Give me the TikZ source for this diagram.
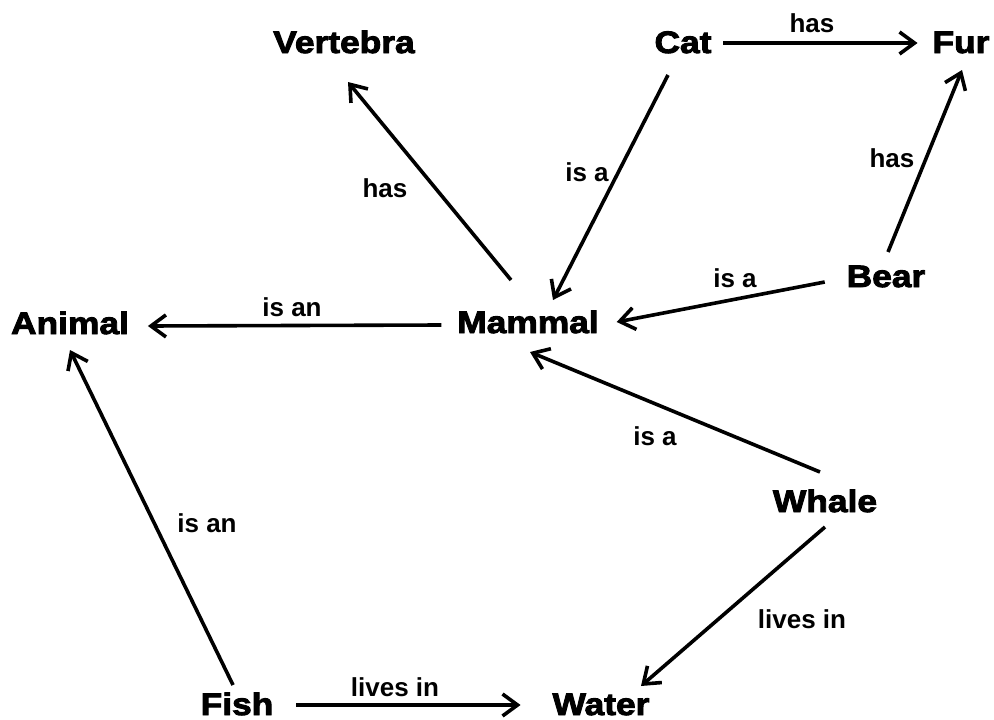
\documentclass[tikz,border=0pt]{standalone}
\usepackage{fontspec}
\setmainfont{Liberation Sans}
\newfontfamily\conceptfont{Liberation Sans}[BoldFeatures={FakeBold=3,FakeStretch=1.14}]
\usetikzlibrary{arrows.meta}

\tikzset{
  concept/.style={inner sep=0pt, outer sep=0pt, anchor=base,
    text height=22pt, text depth=0pt,
    font=\conceptfont\bfseries\fontsize{31}{31}\selectfont},
  relation/.style={inner sep=0pt, anchor=base,
    font=\bfseries\fontsize{26}{26}\selectfont},
  link/.style={line width=3.6pt, -{Straight Barb[length=15pt,width=22pt]}},
}

\begin{document}
\begin{tikzpicture}[x=1pt, y=-1pt]
  \useasboundingbox[fill=white] (0,0) rectangle (994,720);

  % concepts
  \node[concept] (vertebra) at (344,53)  {Vertebra};
  \node[concept] (cat)      at (683,53)  {Cat};
  \node[concept] (fur)      at (961,53)  {Fur};
  \node[concept] (animal)   at (70,334)  {Animal};
  \node[concept] (mammal)   at (528,333) {Mammal};
  \node[concept] (bear)     at (886,287) {Bear};
  \node[concept] (whale)    at (825,512) {Whale};
  \node[concept] (fish)     at (237,715) {Fish};
  \node[concept] (water)    at (601,715) {Water};

  % relations
  \draw[link] ([shift={(12,1)}]cat.east) -- ([shift={(-15,1)}]fur.west);
  \draw[link] ([shift={(-15,22)}]cat.south) -- ([shift={(25,-11)}]mammal.north);
  \draw[link] ([shift={(-17,-31)}]mammal.north) -- ([shift={(4,29)}]vertebra.south);
  \draw[link] ([shift={(2,-13)}]bear.north) -- ([shift={(1,17)}]fur.south);
  \draw[link] ([shift={(-22,6)}]bear.west) -- ([shift={(18,0)}]mammal.east);
  \draw[link] ([shift={(-16,3)}]mammal.west) -- ([shift={(19,3)}]animal.east);
  \draw[link] ([shift={(-5,-18)}]whale.north) -- ([shift={(2,19)}]mammal.south);
  \draw[link] ([shift={(-4,-8)}]fish.north) -- ([shift={(0,16)}]animal.south);
  \draw[link] ([shift={(23,1)}]fish.east) -- ([shift={(-32,1)}]water.west);
  \draw[link] ([shift={(0,15)}]whale.south) -- ([shift={(40,-7)}]water.north);

  % relation labels
  \node[relation] (l-catfur)      at (812,32)  {has};
  \node[relation] (l-catmammal)   at (587,181) {is a};
  \node[relation] (l-mammalvert)  at (385,197) {has};
  \node[relation] (l-bearfur)     at (892,167) {has};
  \node[relation] (l-bearmammal)  at (735,287) {is a};
  \node[relation] (l-mammalanim)  at (292,316) {is an};
  \node[relation] (l-whalemammal) at (655,445) {is a};
  \node[relation] (l-fishanimal)  at (207,532) {is an};
  \node[relation] (l-fishwater)   at (395,696) {lives in};
  \node[relation] (l-whalewater)  at (802,628) {lives in};
\end{tikzpicture}
\end{document}
